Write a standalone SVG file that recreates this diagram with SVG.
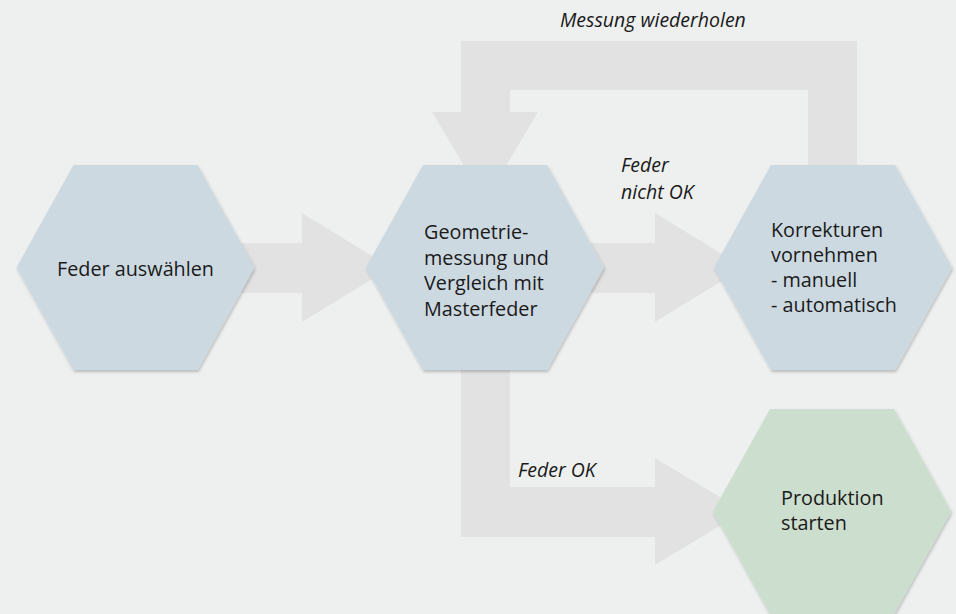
<svg xmlns="http://www.w3.org/2000/svg" width="956" height="614" viewBox="0 0 956 614">
  <defs>
    <filter id="sh" x="-10%" y="-10%" width="120%" height="125%">
      <feDropShadow dx="1" dy="2" stdDeviation="1.5" flood-color="#000" flood-opacity="0.22"/>
    </filter>
    <polygon id="hex" points="-119,0 -62,-102.5 62,-102.5 119,0 62,102.5 -62,102.5"/>
  </defs>
  <style>
    .bg { fill: #EEF0F0; }
    .arrow { fill: #E2E2E2; }
    .hexb { fill: #CDD9E1; filter: url(#sh); }
    .hexg { fill: #CCDECD; filter: url(#sh); }
    .t { font-family: "Open Sans", "Noto Sans", "Liberation Sans", sans-serif; font-size: 19.8px; fill: #1A1A1A; }
    .lbl { font-family: "Open Sans", "Noto Sans", "Liberation Sans", sans-serif; font-size: 19.5px; font-style: italic; fill: #1A1A1A; }
  </style>
  <rect class="bg" x="0" y="0" width="956" height="614"/>

  <g id="connectors">
    <!-- Feder auswählen -> Geometriemessung -->
    <polygon class="arrow" points="200,243 302,243 302,213 391,267.5 302,322 302,293 200,293"/>
    <!-- Geometriemessung -> Korrekturen (Feder nicht OK) -->
    <polygon class="arrow" points="550,243 655,243 655,213 744,267.5 655,322 655,293 550,293"/>
    <!-- Korrekturen -> Geometriemessung (Messung wiederholen) -->
    <polygon class="arrow" points="808,210 808,90 510,90 510,112 538,112 485,201 432,112 461,112 461,41 857,41 857,210"/>
    <!-- Geometriemessung -> Produktion (Feder OK) -->
    <polygon class="arrow" points="461,320 510,320 510,487 655,487 655,458 744,511.5 655,565 655,537 461,537"/>
    <text class="lbl" x="560" y="27">Messung wiederholen</text>
    <text class="lbl" x="621" y="172">Feder</text>
    <text class="lbl" x="621" y="199">nicht OK</text>
    <text class="lbl" x="518" y="477">Feder OK</text>
  </g>

  <g id="node-feder-auswaehlen">
    <use href="#hex" class="hexb" x="135.5" y="267.5"/>
    <text class="t" x="57" y="276">Feder auswählen</text>
  </g>

  <g id="node-geometriemessung">
    <use href="#hex" class="hexb" x="485" y="267.5"/>
    <text class="t" x="424">
      <tspan x="424" y="239">Geometrie-</tspan>
      <tspan x="424" y="264.5">messung und</tspan>
      <tspan x="424" y="290">Vergleich mit</tspan>
      <tspan x="424" y="315.5">Masterfeder</tspan>
    </text>
  </g>

  <g id="node-korrekturen">
    <use href="#hex" class="hexb" x="833" y="267.5"/>
    <text class="t" x="771">
      <tspan x="771" y="237">Korrekturen</tspan>
      <tspan x="771" y="262">vornehmen</tspan>
      <tspan x="771" y="287">- manuell</tspan>
      <tspan x="771" y="312">- automatisch</tspan>
    </text>
  </g>

  <g id="node-produktion">
    <use href="#hex" class="hexg" x="832" y="511.5"/>
    <text class="t" x="781">
      <tspan x="781" y="505">Produktion</tspan>
      <tspan x="781" y="530">starten</tspan>
    </text>
  </g>
</svg>
